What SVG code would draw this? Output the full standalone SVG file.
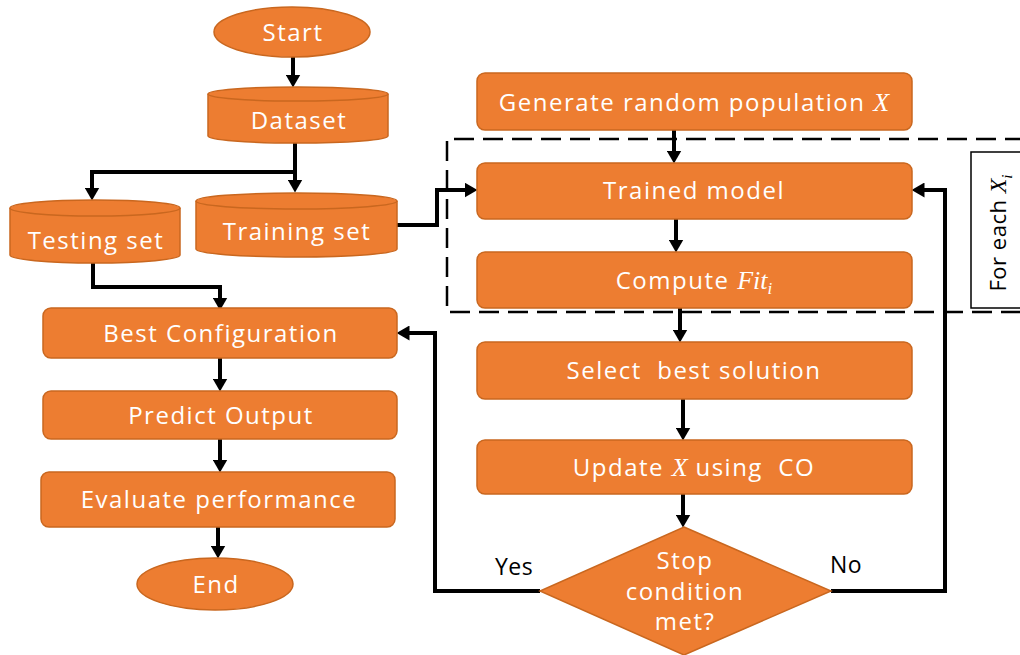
<svg xmlns="http://www.w3.org/2000/svg" width="1020" height="655" viewBox="0 0 1020 655">
<style>
.n{fill:#ED7D31;stroke:#C9671F;stroke-width:1.5}
.t{font-family:"Open Sans","Noto Sans",sans-serif;font-size:24px;letter-spacing:1.5px;fill:#fff;text-anchor:middle;white-space:pre}
.m{font-family:"Liberation Serif","DejaVu Serif",serif;font-style:italic;letter-spacing:0}
.c{fill:none;stroke:#000;stroke-width:4}
.l{font-family:"Open Sans","Noto Sans",sans-serif;font-size:23px;letter-spacing:0.5px;fill:#000;text-anchor:middle}
</style>
<defs>
<marker id="ah" markerUnits="userSpaceOnUse" markerWidth="13" markerHeight="15" viewBox="0 0 13 15" refX="0.5" refY="7.5" orient="auto">
<path d="M0,0 L13,7.5 L0,15 Z" fill="#000"/>
</marker>
</defs>
<rect width="1020" height="655" fill="#fff"/>

<g id="loop-frame">
<path d="M1025,139 H447 V312 H1025" fill="none" stroke="#000" stroke-width="2.5" stroke-dasharray="20 9"/>
<rect x="971" y="152" width="60" height="156" fill="#fff" stroke="#000" stroke-width="1.5"/>
<text transform="translate(1006,233) rotate(-90)" style="font-family:'Open Sans','Noto Sans',sans-serif;font-size:22px;letter-spacing:0.5px;fill:#000;text-anchor:middle">For each <tspan class="m" font-size="24">X</tspan><tspan class="m" font-size="15" dy="6">i</tspan></text>
</g>

<g id="connectors">
<path class="c" d="M293,57 V75" marker-end="url(#ah)"/>
<path class="c" d="M295,143 V180" marker-end="url(#ah)"/>
<path class="c" d="M295,172 H92 V188" marker-end="url(#ah)"/>
<path class="c" d="M93,263 V287 H220 V298" marker-end="url(#ah)"/>
<path class="c" d="M220,358 V379" marker-end="url(#ah)"/>
<path class="c" d="M220,439 V460" marker-end="url(#ah)"/>
<path class="c" d="M218,527 V546" marker-end="url(#ah)"/>
<path class="c" d="M397,225 H437 V190 H465" marker-end="url(#ah)"/>
<path class="c" d="M674,130 V151" marker-end="url(#ah)"/>
<path class="c" d="M676,219 V240" marker-end="url(#ah)"/>
<path class="c" d="M680,308 V330" marker-end="url(#ah)"/>
<path class="c" d="M683,399 V428" marker-end="url(#ah)"/>
<path class="c" d="M683,494 V515" marker-end="url(#ah)"/>
<path class="c" d="M540,591 H435 V333 H409" marker-end="url(#ah)"/>
<path class="c" d="M831,591 H945 V190 H924" marker-end="url(#ah)"/>
<text class="l" x="514" y="575">Yes</text>
<text class="l" x="846" y="573">No</text>
</g>

<g id="start">
<ellipse class="n" cx="292" cy="32" rx="78" ry="25"/>
<text class="t" x="293" y="41">Start</text>
</g>
<g id="dataset">
<path class="n" d="M208,94 A90,7 0 0 1 388,94 V136 A90,7 0 0 1 208,136 Z"/>
<path d="M208,94 A90,7 0 0 0 388,94" fill="none" stroke="#C9671F" stroke-width="1.5"/>
<text class="t" x="299" y="129">Dataset</text>
</g>
<g id="testing-set">
<path class="n" d="M10,208 A85,8 0 0 1 180,208 V255 A85,8 0 0 1 10,255 Z"/>
<path d="M10,208 A85,8 0 0 0 180,208" fill="none" stroke="#C9671F" stroke-width="1.5"/>
<text class="t" x="96" y="249">Testing set</text>
</g>
<g id="training-set">
<path class="n" d="M196,201 A100.5,8 0 0 1 397,201 V249 A100.5,8 0 0 1 196,249 Z"/>
<path d="M196,201 A100.5,8 0 0 0 397,201" fill="none" stroke="#C9671F" stroke-width="1.5"/>
<text class="t" x="297" y="240">Training set</text>
</g>
<g id="best-configuration">
<rect class="n" x="43" y="308" width="354" height="50" rx="8"/>
<text class="t" x="221" y="342">Best Configuration</text>
</g>
<g id="predict-output">
<rect class="n" x="43" y="391" width="354" height="48" rx="8"/>
<text class="t" x="221" y="424">Predict Output</text>
</g>
<g id="evaluate-performance">
<rect class="n" x="41" y="472" width="354" height="55" rx="8"/>
<text class="t" x="219" y="508">Evaluate performance</text>
</g>
<g id="end">
<ellipse class="n" cx="215" cy="584" rx="78" ry="26"/>
<text class="t" x="216" y="593">End</text>
</g>
<g id="generate">
<rect class="n" x="477" y="73" width="435" height="57" rx="8"/>
<text class="t" x="694" y="111">Generate random population <tspan class="m" font-size="26">X</tspan></text>
</g>
<g id="trained-model">
<rect class="n" x="477" y="163" width="435" height="56" rx="8"/>
<text class="t" x="694" y="199">Trained model</text>
</g>
<g id="compute-fit">
<rect class="n" x="477" y="252" width="435" height="56" rx="8"/>
<text class="t" x="694" y="289">Compute <tspan class="m" font-size="26">Fit</tspan><tspan class="m" font-size="17" dy="5">i</tspan></text>
</g>
<g id="select-best">
<rect class="n" x="477" y="342" width="435" height="57" rx="8"/>
<text class="t" x="694" y="379">Select  best solution</text>
</g>
<g id="update-x">
<rect class="n" x="477" y="440" width="435" height="54" rx="8"/>
<text class="t" x="694" y="476">Update <tspan class="m" font-size="26">X</tspan> using  CO</text>
</g>
<g id="stop-condition">
<path class="n" d="M684,527 L831,591 L684,655 L540,591 Z"/>
<text class="t" x="685" y="569">Stop</text>
<text class="t" x="685" y="600">condition</text>
<text class="t" x="685" y="630">met?</text>
</g>
</svg>
